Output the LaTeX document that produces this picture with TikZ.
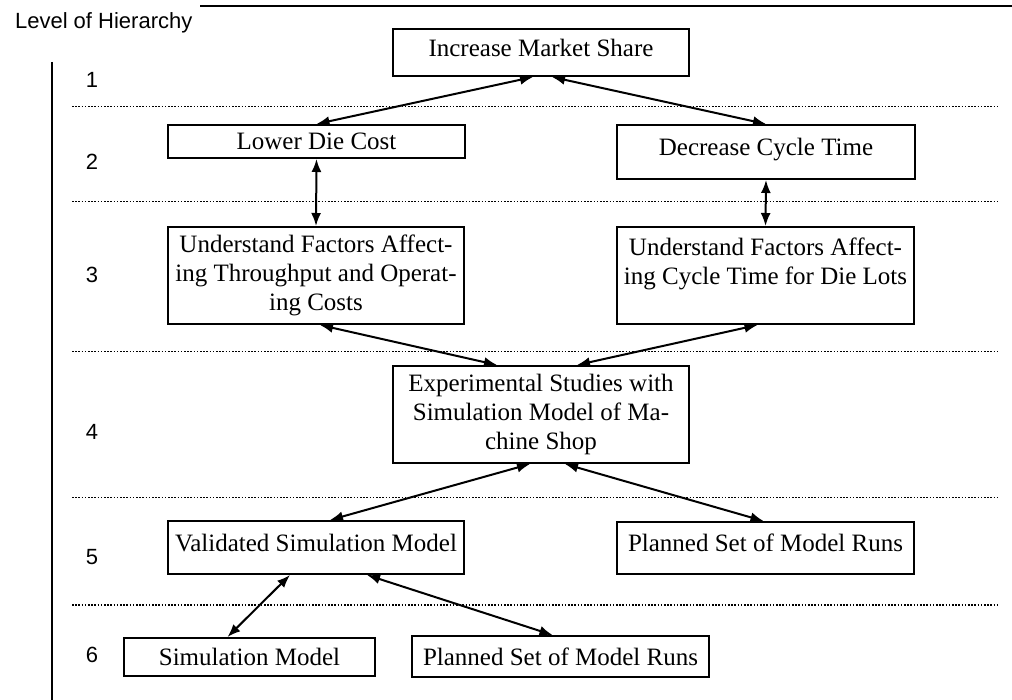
\documentclass[tikz,border=0pt]{standalone}
\usepackage{fontspec}
\setmainfont{Liberation Serif}
\setsansfont{Liberation Sans}
\usetikzlibrary{arrows.meta}

\begin{document}
\begin{tikzpicture}[x=0.5pt,y=-0.5pt,
		box/.style={draw,line width=1pt,align=center,inner sep=2pt,font=\fontsize{12.5}{14.5}\selectfont},
		lvl/.style={font=\sffamily\fontsize{11}{13}\selectfont},
		sep/.style={line width=0.9pt,dash pattern=on 0.8pt off 0.8pt},
		link/.style={line width=1pt,{Latex[length=6.5pt,width=5pt]}-{Latex[length=6.5pt,width=5pt]}}]
		\useasboundingbox (0,0) rectangle (1012,700);
		\node[lvl,anchor=base west] (title) at (8,29) {Level of Hierarchy};
		\draw[line width=1pt] (200,6) -- (1012,6);
		\draw[line width=1pt] (52,62) -- (52,700);
		\node[lvl] (n1) at (92,80) {1};
		\node[lvl] (n2) at (92,162) {2};
		\node[lvl] (n3) at (92,275) {3};
		\node[lvl] (n4) at (92,432) {4};
		\node[lvl] (n5) at (92,557) {5};
		\node[lvl] (n6) at (92,655) {6};
		\draw[sep] (72,106.5) -- (997,106.5);
		\draw[sep] (72,201.5) -- (997,201.5);
		\draw[sep] (72,351.5) -- (997,351.5);
		\draw[sep] (72,497.5) -- (997,497.5);
		\draw[sep] (72,605) -- (997,605);
		\node[box,minimum width=148pt,minimum height=23.5pt,text depth=5pt] (share) at (541,52.5) {Increase Market Share};
		\node[box,minimum width=148.5pt,minimum height=16.5pt] (diecost) at (316.5,141.5) {Lower Die Cost};
		\node[box,minimum width=149pt,minimum height=27pt,text depth=5pt] (cycle) at (766,152) {Decrease Cycle Time};
		\node[box,minimum width=148pt,minimum height=48.5pt] (factcost) at (316,275.5) {Understand Factors Affect-\\ing Throughput and Operat-\\ing Costs};
		\node[box,minimum width=148.5pt,minimum height=48.5pt] (factcycle) at (765.5,275.5) {Understand Factors Affect-\\ing Cycle Time for Die Lots\\\mbox{}};
		\node[box,minimum width=148pt,minimum height=48.5pt] (studies) at (541,414.5) {Experimental Studies with\\Simulation Model of Ma-\\chine Shop};
		\node[box,minimum width=148pt,minimum height=26.5pt,text depth=5pt] (valid) at (316,547.5) {Validated Simulation Model};
		\node[box,minimum width=148.5pt,minimum height=26pt,text depth=5pt] (runsa) at (765.5,548) {Planned Set of Model Runs};
		\node[box,minimum width=125.5pt,minimum height=19pt] (simmod) at (249.5,657) {Simulation Model};
		\node[box,minimum width=148.5pt,minimum height=20.5pt] (runsb) at (560.5,656.5) {Planned Set of Model Runs};
		\draw[link] ([xshift=-4pt]share.south) -- (diecost.north);
		\draw[link] ([xshift=5.5pt]share.south) -- (cycle.north);
		\draw[link] (diecost.south) -- (factcost.north);
		\draw[link] (cycle.south) -- (factcycle.north);
		\draw[link] ([xshift=2pt]factcost.south) -- ([xshift=-22pt]studies.north);
		\draw[link] ([xshift=-4pt]factcycle.south) -- ([xshift=18pt]studies.north);
		\draw[link] ([xshift=-5.5pt]studies.south) -- ([xshift=7pt]valid.north);
		\draw[link] ([xshift=12pt]studies.south) -- ([xshift=-1pt]runsa.north);
		\draw[link] ([xshift=-13pt]valid.south) -- ([xshift=-11pt]simmod.north);
		\draw[link] ([xshift=25.5pt]valid.south) -- ([xshift=-4pt]runsb.north);
	\end{tikzpicture}
\end{document}
